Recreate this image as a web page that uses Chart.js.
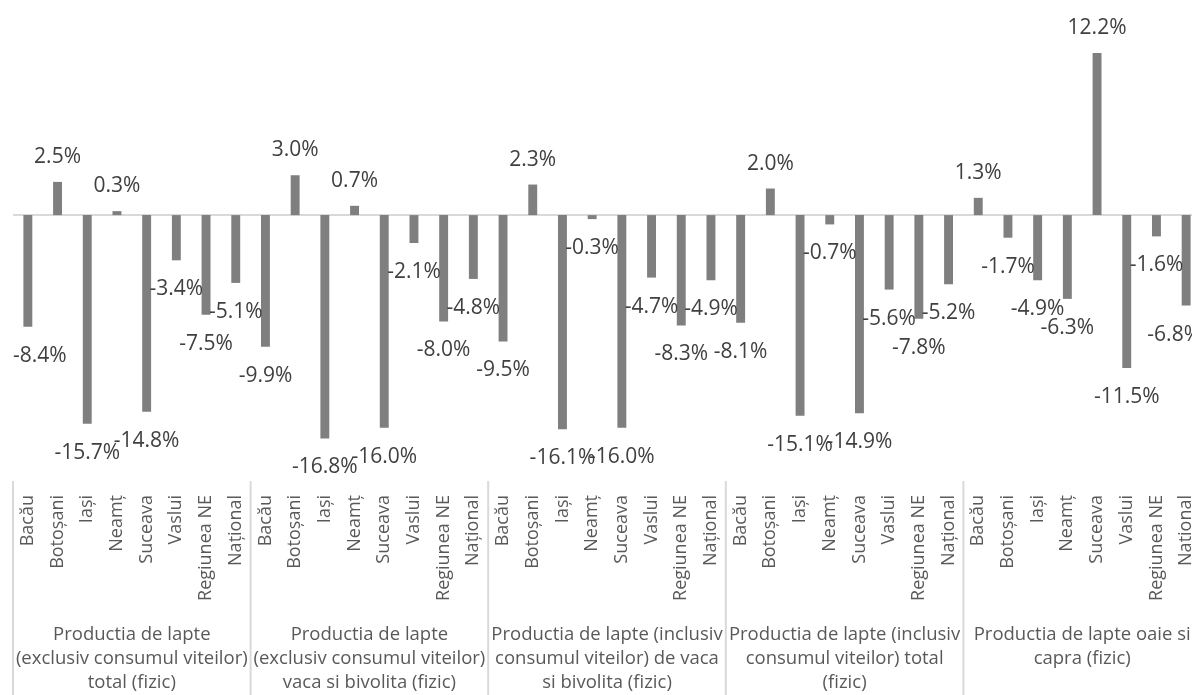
<!DOCTYPE html>
<html>
<head>
<meta charset="utf-8">
<script src="https://cdn.jsdelivr.net/npm/chart.js@4/dist/chart.umd.min.js"></script>
<style>
  html, body { margin: 0; padding: 0; background: #fff; overflow: hidden; }
  #wrap { width: 1205px; height: 695px; position: relative; }
</style>
</head>
<body>
<div id="wrap"><canvas id="chart"></canvas></div>
<script>
'use strict'

const counties = ['Bacău', 'Botoșani', 'Iași', 'Neamț', 'Suceava', 'Vaslui', 'Regiunea NE', 'Național'];

// etichetele grupelor, deja impartite pe randuri
const groups = [
  ['Productia de lapte', '(exclusiv consumul viteilor)', 'total (fizic)'],
  ['Productia de lapte', '(exclusiv consumul viteilor)', 'vaca si bivolita (fizic)'],
  ['Productia de lapte (inclusiv', 'consumul viteilor) de vaca', 'si bivolita (fizic)'],
  ['Productia de lapte (inclusiv', 'consumul viteilor) total', '(fizic)'],
  ['Productia de lapte oaie si', 'capra (fizic)'],
];

const totalExcl = [-8.4, 2.5, -15.7, 0.3, -14.8, -3.4, -7.5, -5.1];
const vacaExcl = [-9.9, 3.0, -16.8, 0.7, -16.0, -2.1, -8.0, -4.8];
const vacaIncl = [-9.5, 2.3, -16.1, -0.3, -16.0, -4.7, -8.3, -4.9];
const totalIncl = [-8.1, 2.0, -15.1, -0.7, -14.9, -5.6, -7.8, -5.2];
const oaieCapra = [1.3, -1.7, -4.9, -6.3, 12.2, -11.5, -1.6, -6.8];

const series = [totalExcl, vacaExcl, vacaIncl, totalIncl, oaieCapra];

const labels = [];
const values = [];
series.forEach(function(s) {
  s.forEach(function(v, i) {
    labels.push(counties[i]);
    values.push(v);
  });
});

const FONT = '"Open Sans", sans-serif';

const drawExtras = {
  id: 'drawExtras',
  beforeDatasetsDraw(chart) {
    const c = chart.ctx;
    const area = chart.chartArea;
    const y0 = chart.scales.y.getPixelForValue(0);
    c.save();
    c.strokeStyle = '#d9d9d9';
    c.lineWidth = 2;
    c.beginPath();
    c.moveTo(area.left, y0);
    c.lineTo(area.right, y0);
    c.stroke();
    c.restore();
  },
  afterDatasetsDraw(chart) {
    const c = chart.ctx;
    const area = chart.chartArea;
    const xs = chart.scales.x;
    const meta = chart.getDatasetMeta(0);
    const n = counties.length;
    const step = xs.getPixelForValue(1) - xs.getPixelForValue(0);

    c.save();
    // valori pe bare (tinute in interiorul zonei graficului, ca in Excel)
    c.font = '21px ' + FONT;
    c.fillStyle = '#404040';
    c.textAlign = 'center';
    c.textBaseline = 'middle';
    meta.data.forEach(function(bar, i) {
      const v = values[i];
      const txt = v.toFixed(1) + '%';
      const w = c.measureText(txt).width;
      let lx = bar.x;
      if (lx - w / 2 < area.left) lx = area.left + w / 2;
      if (lx + w / 2 > area.right) lx = area.right - w / 2;
      const ly = v >= 0 ? bar.y - 25 : bar.y + 29;
      c.fillText(txt, lx, ly);
    });

    // separatori grupe
    c.strokeStyle = '#d9d9d9';
    c.lineWidth = 2;
    for (let g = 0; g <= groups.length; g++) {
      const x = xs.getPixelForValue(g * n) - step / 2;
      c.beginPath();
      c.moveTo(x, area.bottom);
      c.lineTo(x, chart.height);
      c.stroke();
    }

    // judete, text vertical
    c.font = '18px ' + FONT;
    c.fillStyle = '#595959';
    c.textAlign = 'right';
    c.textBaseline = 'middle';
    labels.forEach(function(lab, i) {
      const x = xs.getPixelForValue(i);
      c.save();
      c.translate(x, area.bottom + 14);
      c.rotate(-Math.PI / 2);
      c.fillText(lab, 0, 0);
      c.restore();
    });

    // nume grupe
    c.font = '18.5px ' + FONT;
    c.textAlign = 'center';
    groups.forEach(function(lines, g) {
      const cx = (xs.getPixelForValue(g * n) + xs.getPixelForValue(g * n + n - 1)) / 2;
      lines.forEach(function(t, k) {
        c.fillText(t, cx, area.bottom + 154 + k * 24);
      });
    });
    c.restore();
  }
};

new Chart(document.getElementById('chart'), {
  type: 'bar',
  data: {
    labels: labels,
    datasets: [{
      data: values,
      backgroundColor: '#7f7f7f',
      barPercentage: 0.3,
      categoryPercentage: 1,
    }]
  },
  options: {
    responsive: true,
    maintainAspectRatio: false,
    animation: false,
    layout: { padding: { top: 29, bottom: 214, left: 13, right: 4 } },
    plugins: { legend: { display: false }, tooltip: { enabled: false } },
    scales: {
      x: { display: false },
      y: { display: false, min: -20, max: 14 }
    }
  },
  plugins: [drawExtras]
});
</script>
</body>
</html>
